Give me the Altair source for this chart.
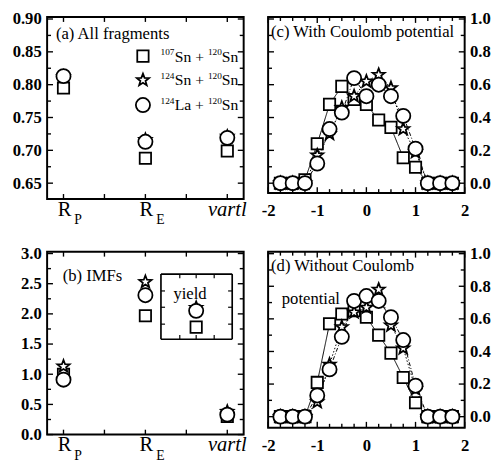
import altair as alt
import pandas as pd

SERIF = "Liberation Serif"
SERIES = ["¹⁰⁷Sn + ¹²⁰Sn", "¹²⁴Sn + ¹²⁰Sn", "¹²⁴La + ¹²⁰Sn"]
STAR = ("M0,-1L0.25,-0.34L0.95,-0.31L0.4,0.13L0.59,0.81L0,0.42"
        "L-0.59,0.81L-0.4,0.13L-0.95,-0.31L-0.25,-0.34Z")
SHAPES = ["square", STAR, "circle"]
SIZES = [135, 210, 165]
DASHES = [[1, 0], [1.5, 2], [4, 2, 1, 2]]

# legend text pieces (mass numbers as superscripts)
leg_sup1 = ["107", "124", "124"]
leg_main1 = ["Sn +", "Sn +", "La +"]
leg_sup2 = ["120", "120", "120"]
leg_main2 = ["Sn", "Sn", "Sn"]

# ---- panels (a) and (b): categories
cat_x = [0, 1, 2]
cat_main = ["R", "R", "vartl"]
cat_sub = ["P", "E", ""]

a_sq = [0.795, 0.688, 0.699]
a_star = [0.812, 0.716, 0.721]
a_circ = [0.813, 0.713, 0.719]

b_sq = [1.00, 1.97, 0.30]
b_star = [1.13, 2.53, 0.38]
b_circ = [0.91, 2.31, 0.33]

# inset "yield" in panel (b)
inset_x = [1.62]
inset_sq = [1.78]
inset_star = [2.10]
inset_circ = [2.05]
inset_x1, inset_x2 = 1.19, 2.06
inset_y1, inset_y2 = 1.58, 2.66
inset_xticks = [1.42, 1.62, 1.84]
inset_yticks = [1.83, 2.11, 2.38]

# ---- panels (c) and (d)
eta = [-1.75, -1.5, -1.25, -1.0, -0.75, -0.5, -0.25, 0.0, 0.25, 0.5, 0.75, 1.0, 1.25, 1.5, 1.75]
c_sq = [0, 0, 0.02, 0.24, 0.48, 0.59, 0.51, 0.48, 0.385, 0.34, 0.155, 0.097, 0, 0, 0]
c_star = [0, 0, 0, 0.17, 0.30, 0.46, 0.53, 0.62, 0.66, 0.58, 0.33, 0.19, 0, 0, 0]
c_circ = [0, 0, 0, 0.12, 0.33, 0.43, 0.64, 0.53, 0.60, 0.53, 0.41, 0.21, 0, 0, 0]

d_sq = [0, 0, 0, 0.21, 0.57, 0.63, 0.65, 0.61, 0.50, 0.39, 0.24, 0.085, 0, 0, 0]
d_star = [0, 0, 0, 0.09, 0.32, 0.55, 0.64, 0.67, 0.78, 0.56, 0.42, 0.17, 0, 0, 0]
d_circ = [0, 0, 0, 0.13, 0.29, 0.49, 0.71, 0.74, 0.71, 0.61, 0.47, 0.19, 0, 0, 0]

# ---- tick values
a_yticks = [0.65, 0.70, 0.75, 0.80, 0.85, 0.90]
a_yminor = [0.675, 0.725, 0.775, 0.825, 0.875]
b_yticks = [0.0, 0.5, 1.0, 1.5, 2.0, 2.5, 3.0]
b_yminor = [0.25, 0.75, 1.25, 1.75, 2.25, 2.75]
ab_xticks = [0, 0.5, 1, 1.5, 2]
cd_xticks = [-2, -1, 0, 1, 2]
cd_xminor = [-1.75, -1.5, -1.25, -0.75, -0.5, -0.25, 0.25, 0.5, 0.75, 1.25, 1.5, 1.75]
cd_yticks = [0.0, 0.2, 0.4, 0.6, 0.8, 1.0]
cd_yminor = [0.1, 0.3, 0.5, 0.7, 0.9]

W_L, W_R = 201, 201
H_A, H_B, H_CD = 186, 187, 180


def long(xs, groups):
    rows = []
    for k, (s, vals) in enumerate(zip(SERIES, groups)):
        for x, v in zip(xs, vals):
            rows.append({"x": x, "y": v, "s": s, "k": k})
    return pd.DataFrame(rows)


def shape_enc():
    return alt.Shape("s:N", scale=alt.Scale(domain=SERIES, range=SHAPES), legend=None)


def size_enc():
    return alt.Size("k:O", scale=alt.Scale(domain=[0, 1, 2], range=SIZES), legend=None)


MARK = dict(filled=True, fill="white", stroke="black", strokeWidth=1.8, opacity=1)


class Panel:
    def __init__(self, xs, ys, xaxis, yaxis, W, H):
        self.xs, self.ys, self.xaxis, self.yaxis, self.W, self.H = xs, ys, xaxis, yaxis, W, H

    def X(self, f):
        return alt.X(f, scale=self.xs, axis=self.xaxis)

    def Y(self, f):
        return alt.Y(f, scale=self.ys, axis=self.yaxis)

    def points(self, df):
        return alt.Chart(df).mark_point(**MARK).encode(
            x=self.X("x:Q"), y=self.Y("y:Q"), shape=shape_enc(), size=size_enc())

    def lines(self, df):
        return alt.Chart(df).mark_line(color="black", strokeWidth=1).encode(
            x=self.X("x:Q"), y=self.Y("y:Q"),
            strokeDash=alt.StrokeDash("s:N", scale=alt.Scale(domain=SERIES, range=DASHES), legend=None),
        )

    def ticks(self, vals, chan, L):
        df = pd.DataFrame({"v": vals})
        base = alt.Chart(df).mark_rule(color="black", strokeWidth=1.4)
        if chan == "x":
            e = self.X("v:Q")
            return [base.encode(x=e, y=alt.value(0), y2=alt.value(L)),
                    base.encode(x=e, y=alt.value(self.H), y2=alt.value(self.H - L))]
        e = self.Y("v:Q")
        return [base.encode(y=e, x=alt.value(0), x2=alt.value(L)),
                base.encode(y=e, x=alt.value(self.W), x2=alt.value(self.W - L))]

    def segs(self, df, width=1.2):
        return alt.Chart(df).mark_rule(color="black", strokeWidth=width).encode(
            x=self.X("x:Q"), x2="x2:Q", y=self.Y("y:Q"), y2="y2:Q")

    def cat_labels(self):
        df = pd.DataFrame({"x": cat_x, "m": cat_main, "sub": cat_sub})
        H = self.H
        r = alt.Chart(df).transform_filter("datum.sub != ''").mark_text(
            align="left", baseline="alphabetic", font=SERIF, fontSize=21, dx=-6, color="black"
        ).encode(x=self.X("x:Q"), y=alt.value(H + 17), text="m:N")
        sub = alt.Chart(df).transform_filter("datum.sub != ''").mark_text(
            align="left", baseline="alphabetic", font=SERIF, fontSize=14, dx=11, color="black"
        ).encode(x=self.X("x:Q"), y=alt.value(H + 26), text="sub:N")
        it = alt.Chart(df).transform_filter("datum.sub == ''").mark_text(
            align="center", baseline="alphabetic", font=SERIF, fontSize=21, fontStyle="italic", color="black"
        ).encode(x=self.X("x:Q"), y=alt.value(H + 17), text="m:N")
        return [r, sub, it]


def note(text, x, y, size=17):
    return alt.Chart(pd.DataFrame({"t": [text]})).mark_text(
        align="left", baseline="alphabetic", font=SERIF, fontSize=size, color="black"
    ).encode(x=alt.value(x), y=alt.value(y), text="t:N")


def legend_layers(x_sym, y_rows):
    out = []
    for i, yc in enumerate(y_rows):
        sym = alt.Chart(pd.DataFrame({"s": [SERIES[i]], "k": [i]})).mark_point(**MARK).encode(
            x=alt.value(x_sym), y=alt.value(yc), shape=shape_enc(), size=size_enc())
        out.append(sym)
        out.append(note(leg_sup1[i], x_sym + 18, yc - 1.5, 9.5))
        out.append(note(leg_main1[i], x_sym + 32.5, yc + 5.5, 16))
        out.append(note(leg_sup2[i], x_sym + 66.5, yc - 1.5, 9.5))
        out.append(note(leg_main2[i], x_sym + 80.7, yc + 5.5, 16))
    return out


# ---------------- panel (a)
xs_ab = alt.Scale(domain=[-0.2, 2.2], nice=False, zero=False)
ys_a = alt.Scale(domain=[0.626, 0.903], nice=False, zero=False)
PA = Panel(xs_ab, ys_a, None,
           alt.Axis(values=a_yticks, format=".2f", orient="left", labelPadding=6, title=""),
           W_L, H_A)
layers_a = ([PA.points(long(cat_x, [a_sq, a_star, a_circ]))]
            + PA.ticks(ab_xticks, "x", 5)
            + PA.ticks(a_yticks, "y", 6)
            + PA.ticks(a_yminor, "y", 4)
            + PA.cat_labels()
            + [note("(a) All fragments", 9, 22)]
            + legend_layers(98, [40, 64.5, 90]))
panel_a = alt.layer(*layers_a).properties(width=W_L, height=H_A)

# ---------------- panel (b)
ys_b = alt.Scale(domain=[0, 3.03], nice=False, zero=False)
PB = Panel(xs_ab, ys_b, None,
           alt.Axis(values=b_yticks, format=".1f", orient="left", labelPadding=6, title=""),
           W_L, H_B)
box_df = pd.DataFrame({
    "x": [inset_x1, inset_x2, inset_x1, inset_x1],
    "x2": [inset_x2, inset_x2, inset_x2, inset_x1],
    "y": [inset_y2, inset_y1, inset_y1, inset_y1],
    "y2": [inset_y2, inset_y2, inset_y1, inset_y2],
})
tick_rows = []
for v in inset_xticks:
    tick_rows.append({"x": v, "x2": v, "y": inset_y2, "y2": inset_y2 - 0.07})
    tick_rows.append({"x": v, "x2": v, "y": inset_y1, "y2": inset_y1 + 0.07})
for v in inset_yticks:
    tick_rows.append({"x": inset_x1, "x2": inset_x1 + 0.05, "y": v, "y2": v})
    tick_rows.append({"x": inset_x2, "x2": inset_x2 - 0.05, "y": v, "y2": v})
yield_txt = alt.Chart(pd.DataFrame({"t": ["yield"], "x": [1.545], "y": [2.33]})).mark_text(
    align="center", baseline="middle", font=SERIF, fontSize=17, color="black"
).encode(x=PB.X("x:Q"), y=PB.Y("y:Q"), text="t:N")
layers_b = ([PB.points(long(cat_x, [b_sq, b_star, b_circ]))]
            + PB.ticks(ab_xticks, "x", 5)
            + PB.ticks(b_yticks, "y", 6)
            + PB.ticks(b_yminor, "y", 4)
            + PB.cat_labels()
            + [note("(b) IMFs", 16, 30), PB.segs(box_df, 1.7), PB.segs(pd.DataFrame(tick_rows)),
               yield_txt, PB.points(long(inset_x, [inset_sq, inset_star, inset_circ]))])
panel_b = alt.layer(*layers_b).properties(width=W_L, height=H_B)

# ---------------- panels (c), (d)
xs_cd = alt.Scale(domain=[-2, 2], nice=False, zero=False)
xaxis_cd = alt.Axis(values=cd_xticks, labelExpr="datum.value + ''", labelPadding=10,
                    labelFlush=False, orient="bottom", title="")


def rapidity_panel(groups, ydom, notes):
    ys = alt.Scale(domain=ydom, nice=False, zero=False)
    P = Panel(xs_cd, ys, xaxis_cd,
              alt.Axis(values=cd_yticks, format=".1f", orient="right", labelPadding=5, title=""),
              W_R, H_CD)
    df = long(eta, groups)
    layers = ([P.lines(df), P.points(df)]
              + P.ticks(cd_xticks, "x", 6)
              + P.ticks(cd_xminor, "x", 4)
              + P.ticks(cd_yticks, "y", 6)
              + P.ticks(cd_yminor, "y", 4)
              + notes)
    return alt.layer(*layers).properties(width=W_R, height=H_CD)


panel_c = rapidity_panel([c_sq, c_star, c_circ], [-0.06, 1.012],
                         [note("(c) With Coulomb potential", 3, 20)])
panel_d = rapidity_panel([d_sq, d_star, d_circ], [-0.068, 1.012],
                         [note("(d) Without Coulomb", 3, 20), note("potential", 14, 53)])

chart = alt.concat(
    panel_a, panel_c, panel_b, panel_d,
    columns=2,
    spacing=alt.RowColnumber(row=54, column=25),
    bounds="flush",
).resolve_scale(
    shape="independent", size="independent", strokeDash="independent"
).properties(
    padding={"left": 3, "top": -4, "right": 2, "bottom": 2},
    background="white",
).configure_view(
    stroke="black", strokeWidth=2
).configure_axis(
    labelFont=SERIF, labelFontSize=17, labelFontWeight="bold", labelColor="black",
    ticks=False, domain=False, grid=False,
)

chart.save("out.html", embed_options={"renderer": "svg", "actions": False})
